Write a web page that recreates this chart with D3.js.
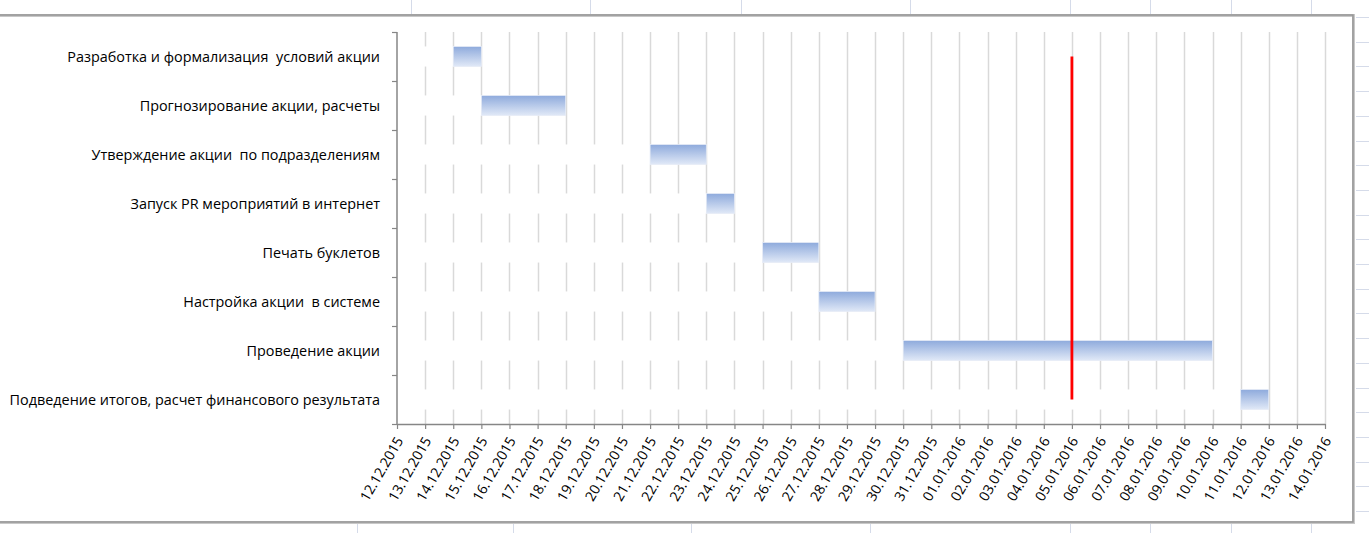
<!DOCTYPE html>
<html><head><meta charset="utf-8">
<script src="https://cdn.jsdelivr.net/npm/d3@7"></script>
<style>
html,body{margin:0;padding:0;background:#fff;}
svg{display:block;}
text{font-family:"Open Sans","Noto Sans",sans-serif;fill:#000;white-space:pre;}
</style></head>
<body><svg id="c" width="1369" height="533"></svg>
<script>
const tasks = [
  "Разработка и формализация  условий акции",
  "Прогнозирование акции, расчеты",
  "Утверждение акции  по подразделениям",
  "Запуск PR мероприятий в интернет",
  "Печать буклетов",
  "Настройка акции  в системе",
  "Проведение акции",
  "Подведение итогов, расчет финансового результата"
];
const startDates = ["2015-12-14","2015-12-15","2015-12-21","2015-12-23","2015-12-25","2015-12-27","2015-12-30","2016-01-11"];
const durationDays = [1,3,2,1,2,2,11,1];
const axisStart = "2015-12-12";
const axisEnd = "2016-01-14";
const todayDate = "2016-01-05";

const parse = d3.utcParse("%Y-%m-%d");
const fmt = d3.utcFormat("%d.%m.%Y");
const svg = d3.select("#c");

// spreadsheet background grid (Excel cells)
const cellCol = "#d5dbe9";
const bg = svg.append("g");
[411,590,741,910,1070,1150,1231,1311].forEach(x=>bg.append("line").attr("x1",x+0.5).attr("x2",x+0.5).attr("y1",0).attr("y2",14).attr("stroke",cellCol));
[357,513,691,870,1070,1150,1231,1311].forEach(x=>bg.append("line").attr("x1",x+0.5).attr("x2",x+0.5).attr("y1",524).attr("y2",533).attr("stroke",cellCol));
for(let i=0;i<21;i++){const y=Math.round(17+i*24.7)+0.5;bg.append("line").attr("x1",1356).attr("x2",1369).attr("y1",y).attr("y2",y).attr("stroke",cellCol);}

// chart area border
svg.append("path").attr("d","M0,15.5H1353.5V522.5H0").attr("fill","none").attr("stroke","#c8c8c8").attr("stroke-width",3);
svg.append("path").attr("d","M0,15H1353V522H0").attr("fill","none").attr("stroke","#959595").attr("stroke-width",1.5);

const x = d3.scaleUtc().domain([parse(axisStart), parse(axisEnd)]).range([397,1325]);
const y = d3.scaleBand().domain(tasks).range([32,424]).paddingInner(0).paddingOuter(0);
const barH = y.step()*0.41;

const days = d3.utcDay.range(parse(axisStart), d3.utcDay.offset(parse(axisEnd),1));

// vertical gridlines
svg.append("g").selectAll("line").data(days.slice(1)).join("line")
  .attr("x1",d=>Math.round(x(d))+0.5).attr("x2",d=>Math.round(x(d))+0.5)
  .attr("y1",32).attr("y2",424).attr("stroke","#d9d9d9").attr("stroke-width",1.5);

// gradient
const defs = svg.append("defs");
const gr = defs.append("linearGradient").attr("id","bg1").attr("x1",0).attr("y1",0).attr("x2",0).attr("y2",1);
gr.append("stop").attr("offset","0%").attr("stop-color","#8eaadc");
gr.append("stop").attr("offset","100%").attr("stop-color","#e1e9f7");

const rows = tasks.map((t,i)=>({task:t,start:parse(startDates[i]),end:d3.utcDay.offset(parse(startDates[i]),durationDays[i])}));

// hidden (white) start series
svg.append("g").selectAll("rect").data(rows).join("rect")
  .attr("x",x(parse(axisStart))).attr("width",d=>x(d.start)-x(parse(axisStart)))
  .attr("y",d=>y(d.task)+y.step()/2-barH/2).attr("height",barH).attr("fill","#fff");

// duration bars
svg.append("g").selectAll("rect").data(rows).join("rect")
  .attr("x",d=>x(d.start)).attr("width",d=>x(d.end)-x(d.start))
  .attr("y",d=>y(d.task)+y.step()/2-barH/2).attr("height",barH).attr("fill","url(#bg1)")
  .attr("stroke","#e6ecf7").attr("stroke-width",0.8);

// x axis
const xa = svg.append("g").attr("transform","translate(0,424)")
  .call(d3.axisBottom(x).tickValues(days).tickFormat(fmt).tickSize(5).tickSizeOuter(0));
xa.select(".domain").attr("stroke","#868686").attr("stroke-width",1.5);
xa.selectAll(".tick line").attr("stroke","#868686").attr("stroke-width",1.2);
xa.selectAll(".tick text").attr("font-size",14).attr("font-family",'"Open Sans",sans-serif').attr("fill","#000")
  .attr("text-anchor","end").attr("x",0).attr("y",0).attr("dy","0.35em")
  .attr("transform","translate(2,14) rotate(-60)");

// y axis
const ya = svg.append("g").attr("transform","translate(397,0)");
ya.append("line").attr("x1",0).attr("x2",0).attr("y1",32).attr("y2",424).attr("stroke","#868686").attr("stroke-width",1.5);
const bounds = tasks.map(t=>y(t)).concat([y(tasks[tasks.length-1])+y.step()]);
ya.selectAll("line.t").data(bounds).join("line").attr("class","t")
  .attr("x1",-5).attr("x2",0).attr("y1",d=>Math.round(d)+0.5).attr("y2",d=>Math.round(d)+0.5).attr("stroke","#868686").attr("stroke-width",1.2);
ya.selectAll("text").data(tasks).join("text")
  .attr("x",-17).attr("y",d=>y(d)+y.step()/2).attr("dy","0.35em")
  .attr("text-anchor","end").attr("font-size",14.4).text(d=>d);

// today line
svg.append("line").attr("x1",x(parse(todayDate))).attr("x2",x(parse(todayDate)))
  .attr("y1",y(tasks[0])+y.step()/2).attr("y2",y(tasks[tasks.length-1])+y.step()/2)
  .attr("stroke","#ff0000").attr("stroke-width",2.8);
</script></body></html>
